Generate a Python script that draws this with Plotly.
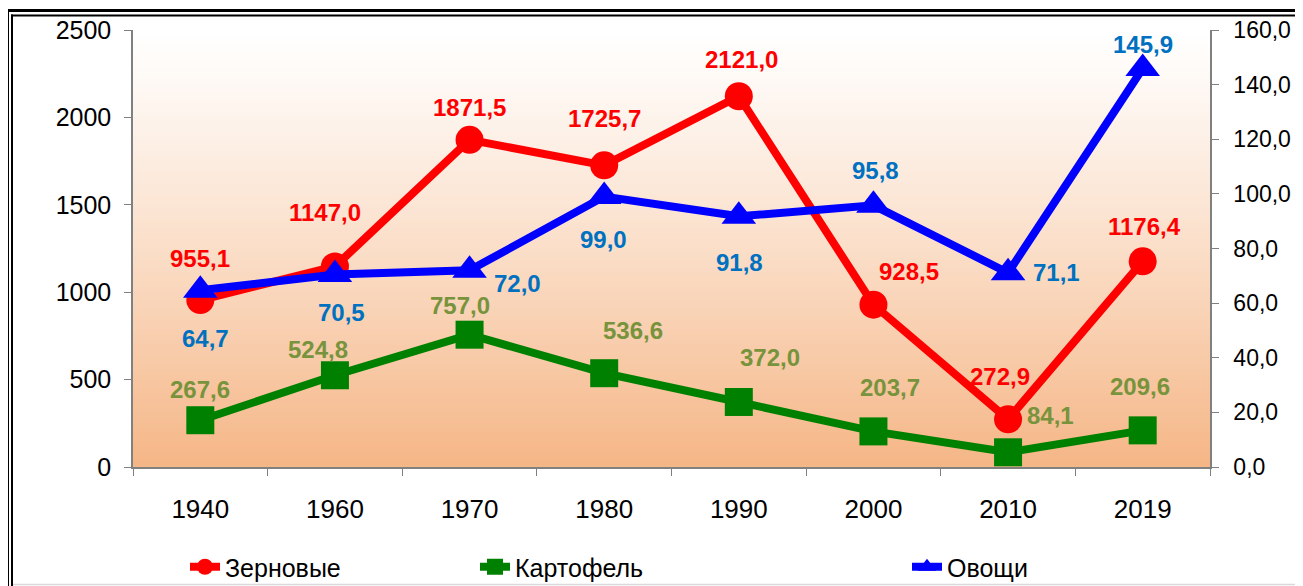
import plotly.graph_objects as go

# данные
years = ['1940', '1960', '1970', '1980', '1990', '2000', '2010', '2019']
zernovye = [955.1, 1147.0, 1871.5, 1725.7, 2121.0, 928.5, 272.9, 1176.4]
kartofel = [267.6, 524.8, 757.0, 536.6, 372.0, 203.7, 84.1, 209.6]
ovoschi = [64.7, 70.5, 72.0, 99.0, 91.8, 95.8, 71.1, 145.9]

# сдвиги подписей (пиксели)
red_dx = [0, -10, 0, 0, 3, 36, -8, 2]
red_dy = [42, 54, 32, 47, 37, 33, 43, 35]
green_dx = [0, -17, -10, 29, 31, 17, 42, -3]
green_dy = [31, 26, 29, 43, 44, 44, 37, 44]
blue_dx = [5, 7, 48, -1, 1, 2, 48, 0]
blue_dy = [-48, -38, -13, -43, -46, 35, 0, 24]

FONT = 'Liberation Sans'
OFF = 8  # отступ body в браузере
W, H = 1303 - OFF, 586 - OFF
X0, X1, Y0, Y1 = 133, 1210, 30, 467  # область построения (пиксели окна)
L, R, T, B = X0 - OFF, W - (X1 - OFF), Y0 - OFF, H - (Y1 - OFF)
pw, ph = X1 - X0, Y1 - Y0


def px_x(p):
    return (p - X0) / pw


def px_y(p):
    return (Y1 - p) / ph


def fmt(v):
    return f'{v:.1f}'.replace('.', ',')


linha_z = go.Scatter(x=years, y=zernovye, name='Зерновые', mode='lines+markers',
                     line=dict(color='#FF0000', width=8),
                     marker=dict(symbol='circle', size=28, color='#FF0000'),
                     legend='legend', hoverinfo='skip')
linha_k = go.Scatter(x=years, y=kartofel, name='Картофель', mode='lines+markers',
                     line=dict(color='#008000', width=8),
                     marker=dict(symbol='square', size=28, color='#008000'),
                     legend='legend2', hoverinfo='skip')
linha_o = go.Scatter(x=years, y=ovoschi, name='Овощи', mode='lines+markers', yaxis='y2',
                     line=dict(color='#0000FF', width=8),
                     marker=dict(symbol='triangle-up', size=30, color='#0000FF'),
                     legend='legend3', hoverinfo='skip')

# подписи данных (x = номер категории)
annots = []
for vals, dx, dy, col, yref in [(zernovye, red_dx, red_dy, '#FF0000', 'y'),
                                (kartofel, green_dx, green_dy, '#77933C', 'y'),
                                (ovoschi, blue_dx, blue_dy, '#0070C0', 'y2')]:
    for i, (v, sx, sy) in enumerate(zip(vals, dx, dy)):
        annots.append(dict(x=i, y=v, xref='x', yref=yref, text=fmt(v), showarrow=False,
                           xshift=sx, yshift=sy,
                           font=dict(family=FONT, size=24, color=col, weight='bold')))

# заголовок (обрезан сверху)
annots.append(dict(x=px_x(670), y=px_y(6), xref='paper', yref='paper', yanchor='bottom',
                   text='(тыс. тонн)', showarrow=False,
                   font=dict(family=FONT, size=22, color='black', weight='bold')))

# градиентный фон области построения
shapes = []
n = 90
top_c = (255, 255, 255)
bot_c = (245, 182, 134)
for i in range(n):
    t = ((i + 0.5) / n) ** 1.15
    c = tuple(round(a + (b - a) * t) for a, b in zip(top_c, bot_c))
    shapes.append(dict(type='rect', xref='paper', yref='paper', x0=0, x1=1,
                       y0=1 - (i + 1) / n, y1=1 - i / n + 0.002,
                       fillcolor='rgb(%d,%d,%d)' % c, line=dict(width=0), layer='below'))

# двойная рамка
shapes += [
    dict(type='line', xref='paper', yref='paper', x0=px_x(6), x1=px_x(1320),
         y0=px_y(10.5), y1=px_y(10.5), line=dict(color='black', width=3)),
    dict(type='line', xref='paper', yref='paper', x0=px_x(7.5), x1=px_x(7.5),
         y0=px_y(9), y1=px_y(600), line=dict(color='black', width=3)),
    dict(type='line', xref='paper', yref='paper', x0=px_x(11), x1=px_x(1320),
         y0=px_y(15.5), y1=px_y(15.5), line=dict(color='black', width=2)),
    dict(type='line', xref='paper', yref='paper', x0=px_x(12), x1=px_x(12),
         y0=px_y(14.5), y1=px_y(600), line=dict(color='black', width=2)),
    dict(type='line', xref='paper', yref='paper', x0=px_x(13), x1=px_x(1320),
         y0=px_y(584.5), y1=px_y(584.5), line=dict(color='#D9D9D9', width=1.5)),
]

leg_common = dict(orientation='h', xanchor='left', yanchor='middle', y=px_y(567),
                  bgcolor='rgba(0,0,0,0)', font=dict(family=FONT, size=25, color='black'))

axis_style = dict(showgrid=False, showline=True, linecolor='#808080', linewidth=1.5,
                  ticks='outside', ticklen=7, tickcolor='#808080', zeroline=False)

layout = go.Layout(
    width=W, height=H,
    margin=dict(l=L, r=R, t=T, b=B, autoexpand=False),
    paper_bgcolor='white', plot_bgcolor='rgba(0,0,0,0)',
    separators=', ',
    font=dict(family=FONT, size=22, color='black'),
    xaxis=dict(type='category', range=[-0.5, len(years) - 0.5], tickson='boundaries',
               tickangle=0, ticklabelstandoff=18, tickfont=dict(family=FONT, size=26),
               **axis_style),
    yaxis=dict(range=[0, 2500], dtick=500, tickformat='d', ticklabelstandoff=8,
               tickfont=dict(family=FONT, size=25), **axis_style),
    yaxis2=dict(range=[0, 160], dtick=20, overlaying='y', side='right', tickformat='.1f',
                ticklabelstandoff=10, tickfont=dict(family=FONT, size=23), **axis_style),
    legend=dict(x=px_x(185), **leg_common),
    legend2=dict(x=px_x(475), **leg_common),
    legend3=dict(x=px_x(907), **leg_common),
    annotations=annots,
    shapes=shapes,
    showlegend=True,
)

fig = go.Figure(data=[linha_k, linha_z, linha_o], layout=layout)
fig.write_html('out.html')
